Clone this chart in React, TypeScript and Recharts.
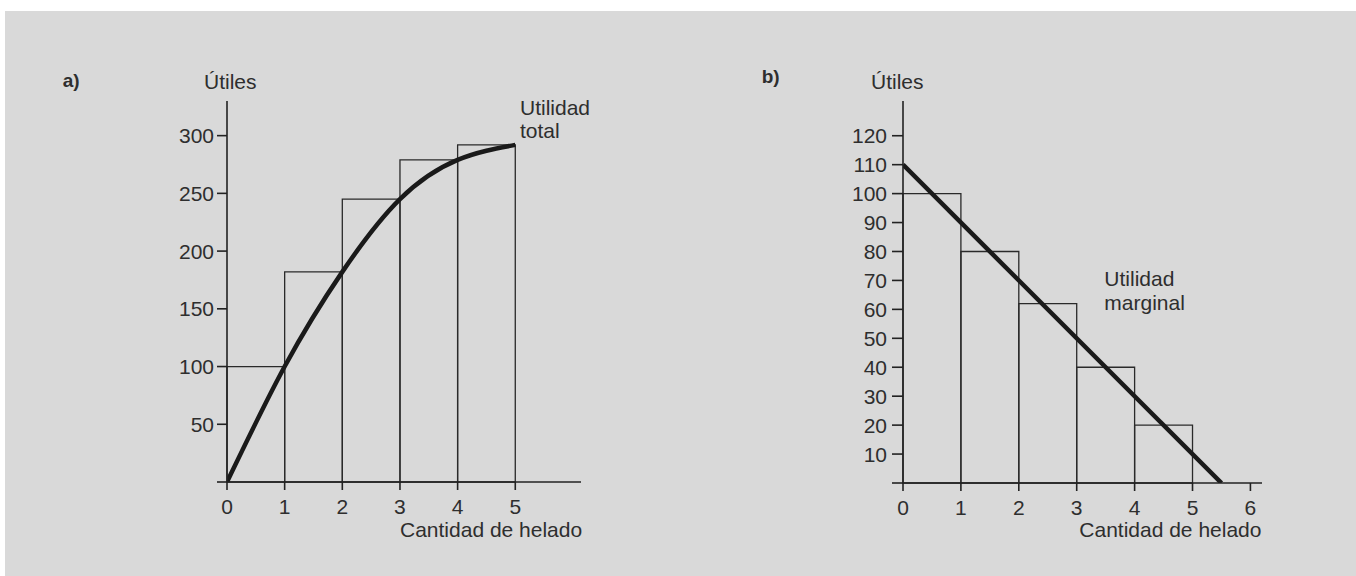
import React from "react"
import {
  ComposedChart,
  Line,
  XAxis,
  YAxis,
  ReferenceArea,
} from "recharts"

// a) utilidad total
const cantidades = [0, 1, 2, 3, 4, 5]
const utilidadTotal = [0, 100, 182, 245, 279, 292]
const barrasTotal = [100, 182, 245, 279, 292]
const ticksTotal = [0, 50, 100, 150, 200, 250, 300]

// b) utilidad marginal
const barrasMarginal = [100, 80, 62, 40, 20]
const lineaMarginalX = [0, 5.5]
const lineaMarginalY = [110, 0]
const ticksMarginal = [0, 10, 20, 30, 40, 50, 60, 70, 80, 90, 100, 110, 120]
const ticksCantidadA = [0, 1, 2, 3, 4, 5]
const ticksCantidadB = [0, 1, 2, 3, 4, 5, 6]

const INK = "#222"
const TEXT = "#2e2e2e"
const FONT = 21

const totalData = cantidades.map((x, i) => ({ x, y: utilidadTotal[i] }))
const marginalData = lineaMarginalX.map((x, i) => ({ x, y: lineaMarginalY[i] }))

const axisLine = { stroke: INK, strokeWidth: 1.6 }
const tickStyle = { fill: TEXT, fontSize: FONT }

function Txt({ left, top, children, bold = false, size = FONT, lh = 1 }: any) {
  return (
    <div
      style={{
        position: "absolute",
        left,
        top,
        fontSize: size,
        lineHeight: typeof lh === "number" && lh < 5 ? lh : `${lh}px`,
        fontWeight: bold ? 700 : 400,
        color: TEXT,
        whiteSpace: "pre",
      }}
    >
      {children}
    </div>
  )
}

function Barras({ values }: { values: number[] }) {
  return (
    <>
      {values.map((v, i) => (
        <ReferenceArea
          key={`r-${i}`}
          x1={i}
          x2={i + 1}
          y1={0}
          y2={v}
          fill="none"
          fillOpacity={0}
          stroke="#2a2a2a"
          strokeWidth={1.3}
          ifOverflow="visible"
        />
      ))}
    </>
  )
}

export default function App() {
  return (
    <div
      style={{
        position: "absolute",
        left: 0,
        top: 0,
        width: 1356,
        height: 576,
        background: "#fff",
        fontFamily: "'Liberation Sans', Arial, sans-serif",
        overflow: "hidden",
      }}
    >
      <div
        style={{
          position: "absolute",
          left: 5,
          top: 11,
          right: 0,
          bottom: 0,
          background: "#d9d9d9",
        }}
      />

      {/* a) */}
      <div style={{ position: "absolute", left: 120, top: 60 }}>
        <ComposedChart
          width={500}
          height={510}
          margin={{ top: 41, right: 39, left: 47, bottom: 58 }}
        >
          <XAxis
            type="number"
            dataKey="x"
            domain={[0, 6.14]}
            ticks={ticksCantidadA}
            interval={0}
            allowDataOverflow
            height={30}
            axisLine={axisLine}
            tickLine={axisLine}
            tickSize={8}
            tickMargin={9}
            tick={tickStyle}
          />
          <YAxis
            type="number"
            domain={[0, 330]}
            ticks={ticksTotal}
            interval={0}
            allowDataOverflow
            width={60}
            axisLine={axisLine}
            tickLine={axisLine}
            tickSize={10}
            tickMargin={3}
            tick={tickStyle}
            tickFormatter={(v: number) => (v === 0 ? "" : String(v))}
          />
          <Barras values={barrasTotal} />
          <Line
            data={totalData}
            dataKey="y"
            type="natural"
            stroke="#1a1a1a"
            strokeWidth={4.5}
            dot={false}
            isAnimationActive={false}
          />
        </ComposedChart>
      </div>

      {/* b) */}
      <div style={{ position: "absolute", left: 800, top: 60 }}>
        <ComposedChart
          width={500}
          height={510}
          margin={{ top: 41, right: 38, left: 43, bottom: 57 }}
        >
          <XAxis
            type="number"
            dataKey="x"
            domain={[0, 6.2]}
            ticks={ticksCantidadB}
            interval={0}
            allowDataOverflow
            height={30}
            axisLine={axisLine}
            tickLine={axisLine}
            tickSize={8}
            tickMargin={9}
            tick={tickStyle}
          />
          <YAxis
            type="number"
            domain={[0, 132]}
            ticks={ticksMarginal}
            interval={0}
            allowDataOverflow
            width={60}
            axisLine={axisLine}
            tickLine={axisLine}
            tickSize={11}
            tickMargin={5}
            tick={tickStyle}
            tickFormatter={(v: number) => (v === 0 ? "" : String(v))}
          />
          <Barras values={barrasMarginal} />
          <Line
            data={marginalData}
            dataKey="y"
            type="linear"
            stroke="#1a1a1a"
            strokeWidth={4.5}
            dot={false}
            isAnimationActive={false}
          />
        </ComposedChart>
      </div>

      <Txt left={62.7} top={70.6} bold size={19}>a)</Txt>
      <Txt left={761.7} top={67.2} bold size={19}>b)</Txt>
      <Txt left={204} top={70.5}>Útiles</Txt>
      <Txt left={871} top={70.5}>Útiles</Txt>
      <Txt left={520} top={96.2} lh={23}>{"Utilidad\ntotal"}</Txt>
      <Txt left={1104.3} top={267.4} lh={24}>{"Utilidad\nmarginal"}</Txt>
      <Txt left={400} top={518.9}>Cantidad de helado</Txt>
      <Txt left={1079.3} top={518.9}>Cantidad de helado</Txt>
    </div>
  )
}
